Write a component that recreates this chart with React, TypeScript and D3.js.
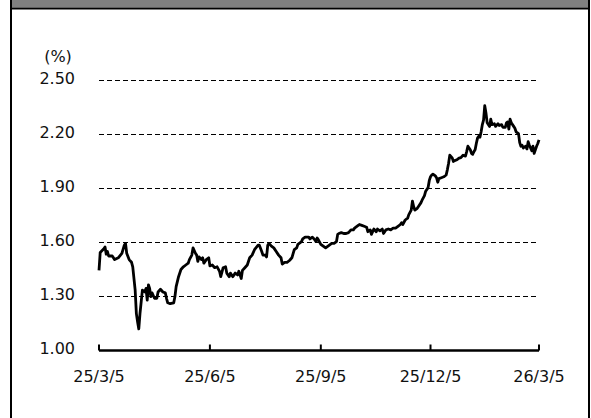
import React from "react";
import * as d3 from "d3";

const W = 591;
const H = 418;

// daily series, yy-mm-dd / %
const dates = [
  "25-03-05", "25-03-06", "25-03-09", "25-03-10", "25-03-11", "25-03-12", "25-03-13", "25-03-16", "25-03-18", "25-03-21", "25-03-24", "25-03-26", "25-03-27", "25-03-28", "25-03-30",
  "25-04-01", "25-04-02", "25-04-04", "25-04-05", "25-04-06", "25-04-07", "25-04-08", "25-04-09", "25-04-10", "25-04-12", "25-04-13", "25-04-14", "25-04-15", "25-04-16", "25-04-17", "25-04-18", "25-04-20", "25-04-22", "25-04-23", "25-04-25", "25-04-27", "25-04-29", "25-04-30",
  "25-05-01", "25-05-03", "25-05-06", "25-05-07", "25-05-08", "25-05-10", "25-05-12", "25-05-14", "25-05-16", "25-05-18", "25-05-19", "25-05-21", "25-05-22", "25-05-24", "25-05-25", "25-05-26", "25-05-27", "25-05-29", "25-05-30", "25-05-31",
  "25-06-02", "25-06-04", "25-06-05", "25-06-07", "25-06-09", "25-06-11", "25-06-13", "25-06-14", "25-06-16", "25-06-18", "25-06-19", "25-06-21", "25-06-22", "25-06-24", "25-06-26", "25-06-28", "25-06-29",
  "25-07-01", "25-07-02", "25-07-04", "25-07-06", "25-07-08", "25-07-10", "25-07-12", "25-07-15", "25-07-16", "25-07-18", "25-07-19", "25-07-21", "25-07-22", "25-07-23", "25-07-24", "25-07-26", "25-07-28", "25-07-30",
  "25-08-01", "25-08-03", "25-08-04", "25-08-06", "25-08-08", "25-08-10", "25-08-12", "25-08-14", "25-08-16", "25-08-17", "25-08-20", "25-08-21", "25-08-23", "25-08-26", "25-08-27", "25-08-29", "25-08-31",
  "25-09-01", "25-09-02", "25-09-03", "25-09-05", "25-09-07", "25-09-09", "25-09-11", "25-09-14", "25-09-16", "25-09-18", "25-09-19", "25-09-20", "25-09-22", "25-09-24", "25-09-26", "25-09-28", "25-09-30",
  "25-10-02", "25-10-03", "25-10-06", "25-10-07", "25-10-09", "25-10-11", "25-10-13", "25-10-14", "25-10-16", "25-10-17", "25-10-18", "25-10-19", "25-10-21", "25-10-22", "25-10-24", "25-10-26", "25-10-27", "25-10-29", "25-10-31",
  "25-11-02", "25-11-04", "25-11-06", "25-11-08", "25-11-10", "25-11-11", "25-11-12", "25-11-14", "25-11-16", "25-11-17", "25-11-19", "25-11-20", "25-11-21", "25-11-22", "25-11-24", "25-11-25", "25-11-27", "25-11-28", "25-11-30",
  "25-12-01", "25-12-03", "25-12-04", "25-12-05", "25-12-06", "25-12-07", "25-12-09", "25-12-10", "25-12-11", "25-12-12", "25-12-14", "25-12-16", "25-12-18", "25-12-19", "25-12-20", "25-12-21", "25-12-23", "25-12-24", "25-12-25", "25-12-27", "25-12-29", "25-12-30",
  "26-01-01", "26-01-03", "26-01-04", "26-01-05", "26-01-07", "26-01-08", "26-01-09", "26-01-10", "26-01-11", "26-01-12", "26-01-13", "26-01-14", "26-01-15", "26-01-16", "26-01-17", "26-01-18", "26-01-19", "26-01-20", "26-01-21", "26-01-23", "26-01-24", "26-01-25", "26-01-27", "26-01-28", "26-01-30", "26-01-31",
  "26-02-02", "26-02-03", "26-02-05", "26-02-06", "26-02-07", "26-02-08", "26-02-09", "26-02-10", "26-02-12", "26-02-13", "26-02-14", "26-02-16", "26-02-17", "26-02-18", "26-02-19", "26-02-20", "26-02-22", "26-02-23", "26-02-24", "26-02-25", "26-02-27", "26-02-28",
  "26-03-01", "26-03-03", "26-03-04", "26-03-05",
];

const yields = [
  1.445, 1.545, 1.565, 1.575, 1.535, 1.55, 1.525, 1.525, 1.505, 1.515, 1.54, 1.585, 1.595, 1.54, 1.505,
  1.49, 1.465, 1.335, 1.205, 1.16, 1.12, 1.205, 1.27, 1.335, 1.325, 1.345, 1.28, 1.365, 1.345, 1.3, 1.32, 1.29, 1.29, 1.325, 1.34, 1.325, 1.32, 1.29,
  1.265, 1.26, 1.265, 1.3, 1.355, 1.41, 1.45, 1.465, 1.475, 1.485, 1.505, 1.53, 1.57, 1.54, 1.53, 1.495, 1.52, 1.505, 1.515, 1.485,
  1.505, 1.515, 1.47, 1.475, 1.46, 1.465, 1.44, 1.41, 1.46, 1.465, 1.43, 1.41, 1.43, 1.41, 1.43, 1.42, 1.44,
  1.4, 1.445, 1.46, 1.475, 1.515, 1.53, 1.56, 1.585, 1.585, 1.55, 1.53, 1.53, 1.52, 1.585, 1.595, 1.58, 1.57, 1.55,
  1.53, 1.515, 1.48, 1.49, 1.49, 1.5, 1.515, 1.56, 1.57, 1.59, 1.605, 1.62, 1.63, 1.63, 1.62, 1.63, 1.615,
  1.605, 1.625, 1.615, 1.59, 1.58, 1.57, 1.58, 1.595, 1.595, 1.605, 1.645, 1.65, 1.655, 1.65, 1.65, 1.655, 1.67,
  1.67, 1.68, 1.695, 1.7, 1.695, 1.69, 1.685, 1.66, 1.67, 1.645, 1.66, 1.675, 1.66, 1.675, 1.665, 1.675, 1.65, 1.67, 1.675,
  1.67, 1.68, 1.68, 1.69, 1.7, 1.71, 1.7, 1.725, 1.735, 1.755, 1.78, 1.83, 1.8, 1.78, 1.79, 1.8, 1.82, 1.835, 1.86,
  1.885, 1.905, 1.945, 1.965, 1.975, 1.98, 1.97, 1.96, 1.935, 1.955, 1.96, 1.965, 1.975, 2.005, 2.04, 2.085, 2.07, 2.05, 2.055, 2.06, 2.07, 2.07,
  2.085, 2.08, 2.105, 2.135, 2.115, 2.095, 2.09, 2.105, 2.115, 2.15, 2.18, 2.19, 2.185, 2.215, 2.255, 2.28, 2.36, 2.32, 2.265, 2.245, 2.285, 2.255, 2.26, 2.245, 2.26, 2.25,
  2.255, 2.24, 2.24, 2.265, 2.27, 2.23, 2.285, 2.265, 2.245, 2.235, 2.215, 2.205, 2.155, 2.135, 2.14, 2.125, 2.135, 2.12, 2.16, 2.14, 2.11, 2.135,
  2.095, 2.135, 2.15, 2.17,
];

const yTicks = [1.0, 1.3, 1.6, 1.9, 2.2, 2.5];
const xTickDates = ["25-03-05", "25-06-05", "25-09-05", "25-12-05", "26-03-05"];

const parse = d3.timeParse("%y-%m-%d");
const fmtDate = d3.timeFormat("%y/%-m/%-d");

const FONT = "'DejaVu Sans', Verdana, sans-serif";

export default function App() {
  const points = dates.map((d, i) => ({ date: parse(d) as Date, v: yields[i] }));
  const xTicks = xTickDates.map((d) => parse(d) as Date);

  const x = d3
    .scaleTime()
    .domain([xTicks[0], xTicks[xTicks.length - 1]])
    .range([99, 539]);
  const y = d3.scaleLinear().domain([1.0, 2.5]).range([350.5, 80.5]);

  const line = d3
    .line<{ date: Date; v: number }>()
    .x((d) => x(d.date))
    .y((d) => y(d.v));

  const [x0, x1] = x.range();
  const yBase = y(1.0);

  return (
    <svg
      width={W}
      height={H}
      style={{ position: "absolute", left: 0, top: 0, background: "#fff" }}
    >
      {/* frame + header band */}
      <rect x={11} y={-5} width={578} height={H + 10} fill="#fff" stroke="#000" strokeWidth={2} />
      <rect x={12} y={0} width={576} height={7.5} fill="#808080" />
      <line x1={11} x2={589} y1={8.5} y2={8.5} stroke="#000" strokeWidth={2} />

      {/* grid */}
      {yTicks.slice(1).map((t) => (
        <line
          key={t}
          x1={x0}
          x2={x1}
          y1={y(t)}
          y2={y(t)}
          stroke="#000"
          strokeWidth={1}
          strokeDasharray="5,3"
        />
      ))}

      {/* y labels */}
      <g fontFamily={FONT} fontSize={16} fill="#111">
        {yTicks.map((t) => (
          <text key={t} x={75} y={y(t) + 3} textAnchor="end">
            {t.toFixed(2)}
          </text>
        ))}
        <text x={58} y={62} textAnchor="middle">(%)</text>
      </g>

      {/* x axis */}
      <line x1={x0} x2={x1} y1={yBase} y2={yBase} stroke="#000" strokeWidth={2.5} />
      {xTicks.map((t) => (
        <line key={+t} x1={x(t)} x2={x(t)} y1={yBase} y2={yBase - 6} stroke="#000" strokeWidth={2} />
      ))}
      <g fontFamily={FONT} fontSize={16} fill="#111">
        {xTicks.map((t) => (
          <text key={+t} x={x(t)} y={382} textAnchor="middle">
            {fmtDate(t)}
          </text>
        ))}
      </g>

      {/* series */}
      <path d={line(points) ?? ""} fill="none" stroke="#000" strokeWidth={2.8} strokeLinejoin="round" />
    </svg>
  );
}
